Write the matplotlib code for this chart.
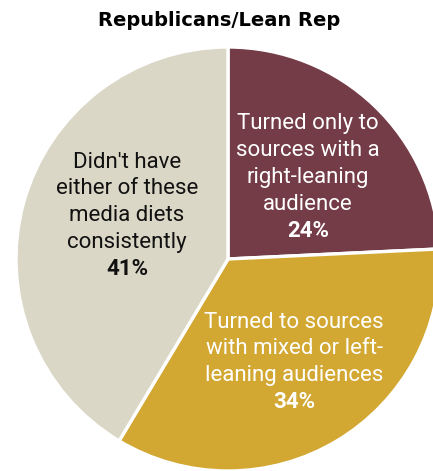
import matplotlib
matplotlib.use('AGG')
import matplotlib.pyplot as plt

# Republicans/Lean Rep media diet shares (%)
labels = [
    "Turned only to\nsources with a\nright-leaning\naudience",
    "Turned to sources\nwith mixed or left-\nleaning audiences",
    "Didn't have\neither of these\nmedia diets\nconsistently",
]
shares = [24, 34, 41]
colors = ["#733C47", "#D2A732", "#DAD7C6"]
text_colors = ["white", "white", "#111111"]

W, H = 433, 471
fig = plt.figure(figsize=(W / 100, H / 100), dpi=100)
ax = fig.add_axes([0, 0, 1, 1])

# pie in pixel units (y measured from bottom)
cx, cy, r = 228, 212, 212
ax.pie(shares, colors=colors, startangle=90, counterclock=False,
       center=(cx, cy), radius=r, frame=True,
       wedgeprops=dict(edgecolor='white', linewidth=2.4))
ax.set_xlim(0, W)
ax.set_ylim(0, H)
ax.axis('off')

ax.text(219, H - 20, "Republicans/Lean Rep", ha='center', va='center',
        fontsize=14, fontweight='bold', family='DejaVu Sans', color='black')

# label blocks: (x center, y of first line from top)
label_pos = [(308, 124), (294, 322), (127, 162)]
step = 26.8
for lab, val, tc, (x, y0) in zip(labels, shares, text_colors, label_pos):
    lines = lab.split('\n')
    for i, line in enumerate(lines):
        ax.text(x, H - (y0 + i * step), line, ha='center', va='center',
                fontsize=16, family='Roboto', color=tc)
    ax.text(x, H - (y0 + len(lines) * step), f"{val}%", ha='center',
            va='center', fontsize=16, fontweight='bold', family='Roboto',
            color=tc)

plt.savefig('out.png', dpi=100)
plt.close()
